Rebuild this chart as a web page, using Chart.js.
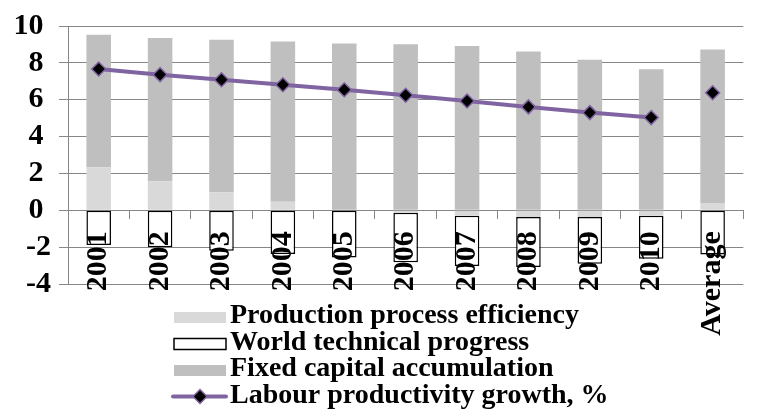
<!DOCTYPE html>
<html>
<head>
<meta charset="utf-8">
<script src="https://cdn.jsdelivr.net/npm/chart.js@4.4.1/dist/chart.umd.min.js"></script>
<style>
  body { margin: 0; background: #fff; }
  #wrap { width: 762px; height: 411px; }
</style>
</head>
<body>
<div id="wrap"><canvas id="chart" width="762" height="411"></canvas></div>
<script>
const periods = ['2001', '2002', '2003', '2004', '2005', '2006', '2007', '2008', '2009', '2010', 'Average'];

// contributions to labour productivity growth, percentage points
const efficiency = [2.34, 1.58, 0.98, 0.46, 0.03, -0.14, -0.30, -0.36, -0.36, -0.30, 0.40];
const worldProgress = [-1.88, -2.01, -2.19, -2.37, -2.56, -2.68, -2.73, -2.72, -2.54, -2.33, -2.40];
const fixedCapital = [7.18, 7.77, 8.27, 8.70, 9.02, 9.01, 8.92, 8.62, 8.17, 7.65, 8.32];
const productivityGrowth = [7.67, 7.36, 7.08, 6.81, 6.54, 6.24, 5.93, 5.61, 5.30, 5.03, 6.38];

const yTicks = [-4, -2, 0, 2, 4, 6, 8, 10];

const SERIF = '"Liberation Serif", "Times New Roman", serif';
const GRID = '#868686';
const PURPLE = '#8064a2';

// legend as a single column under the plot
const columnLegend = {
  id: 'columnLegend',
  afterDraw(chart) {
    const ctx = chart.ctx;
    ctx.save();
    ctx.font = 'bold 28px ' + SERIF;
    ctx.textBaseline = 'alphabetic';
    chart.data.datasets.forEach((ds, i) => {
      const base = 323 + i * 26.5;
      const mid = base - 6;
      if (ds.type === 'line') {
        ctx.strokeStyle = ds.borderColor;
        ctx.lineWidth = 4;
        ctx.lineCap = 'round';
        ctx.beginPath();
        ctx.moveTo(173, mid);
        ctx.lineTo(226, mid);
        ctx.stroke();
        const r = 7;
        ctx.beginPath();
        ctx.moveTo(200, mid - r);
        ctx.lineTo(200 + r, mid);
        ctx.lineTo(200, mid + r);
        ctx.lineTo(200 - r, mid);
        ctx.closePath();
        ctx.fillStyle = ds.pointBackgroundColor;
        ctx.fill();
        ctx.lineWidth = 1.5;
        ctx.strokeStyle = ds.pointBorderColor;
        ctx.stroke();
      } else {
        ctx.fillStyle = ds.backgroundColor;
        ctx.fillRect(174, mid - 5, 52, 11);
        if (ds.borderWidth) {
          ctx.lineWidth = 1.5;
          ctx.strokeStyle = ds.borderColor;
          ctx.strokeRect(174, mid - 5, 52, 11);
        }
      }
      ctx.fillStyle = '#000';
      ctx.fillText(ds.label, 230, base);
    });
    ctx.restore();
  }
};

new Chart(document.getElementById('chart'), {
  type: 'bar',
  data: {
    labels: periods,
    datasets: [
      {
        type: 'bar',
        label: 'Production process efficiency',
        data: efficiency,
        backgroundColor: '#d9d9d9',
        borderWidth: 0,
        stack: 'parts',
        order: 1
      },
      {
        type: 'bar',
        label: 'World technical progress',
        data: worldProgress,
        backgroundColor: '#ffffff',
        borderColor: '#000000',
        borderWidth: 1.5,
        borderSkipped: false,
        stack: 'parts',
        order: 1
      },
      {
        type: 'bar',
        label: 'Fixed capital accumulation',
        data: fixedCapital,
        backgroundColor: '#bfbfbf',
        borderWidth: 0,
        stack: 'parts',
        order: 1
      },
      {
        type: 'line',
        label: 'Labour productivity growth, %',
        data: productivityGrowth,
        borderColor: PURPLE,
        borderWidth: 4,
        tension: 0,
        pointStyle: 'rectRot',
        pointRadius: 7,
        pointBackgroundColor: '#000000',
        pointBorderColor: PURPLE,
        pointBorderWidth: 1.5,
        segment: {
          // the average is not joined to the yearly line
          borderColor: c => c.p1DataIndex === periods.length - 1 ? 'rgba(0,0,0,0)' : PURPLE
        },
        stack: 'growth',
        order: 0
      }
    ]
  },
  options: {
    responsive: false,
    animation: false,
    barPercentage: 0.4,
    categoryPercentage: 1,
    layout: {
      // bottom space holds the legend; the category axis sits on zero
      padding: { top: 23, right: -4, left: 0, bottom: 127 }
    },
    plugins: {
      legend: { display: false },
      tooltip: { enabled: false },
      title: { display: false }
    },
    scales: {
      x: {
        position: { y: 0 },
        stacked: true,
        offset: true,
        grid: {
          display: true,
          drawOnChartArea: false,
          drawTicks: true,
          tickLength: 8,
          color: GRID,
          offset: true
        },
        border: { display: true, color: GRID },
        ticks: {
          z: 1,
          minRotation: 90,
          maxRotation: 90,
          autoSkip: false,
          padding: 13,
          color: '#000',
          font: { family: SERIF, size: 30, weight: 'bold' }
        }
      },
      y: {
        stacked: true,
        min: yTicks[0],
        max: yTicks[yTicks.length - 1],
        afterBuildTicks(scale) { scale.ticks = yTicks.map(v => ({ value: v })); },
        grid: { color: GRID, tickLength: 9 },
        border: { display: true, color: GRID },
        ticks: {
          autoSkip: false,
          padding: 8,
          color: '#000',
          font: { family: SERIF, size: 30, weight: 'bold' },
          callback: v => v < 0 ? String(v) : v + ' '
        },
        afterFit(scale) { scale.width = 68; }
      }
    }
  },
  plugins: [columnLegend]
});
</script>
</body>
</html>
